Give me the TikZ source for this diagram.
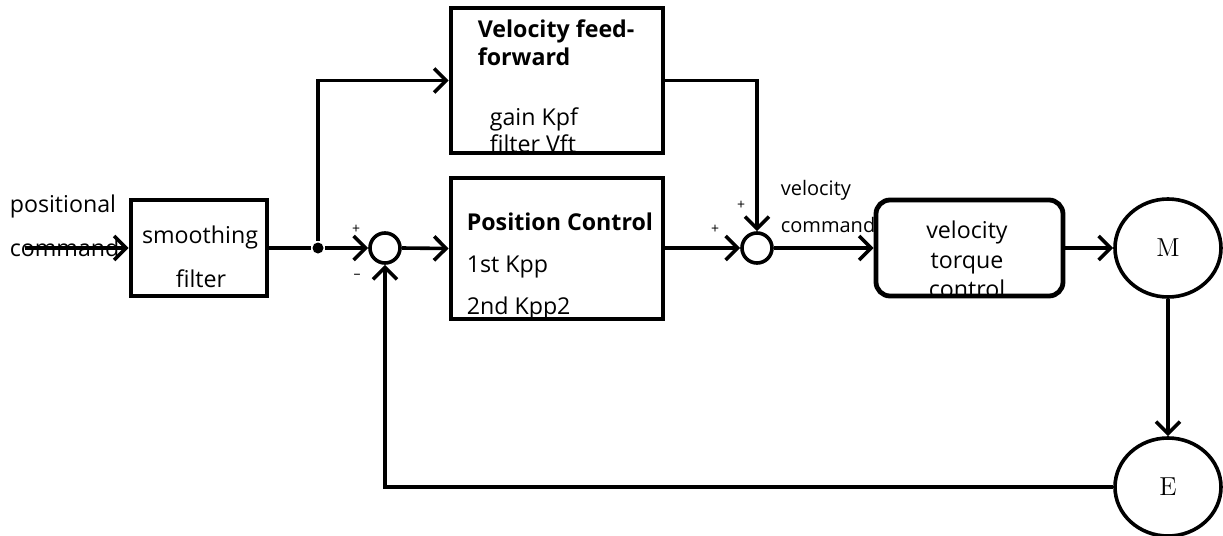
\documentclass[tikz,border=0pt]{standalone}
\usepackage{fontspec}
\setmainfont{Open Sans}
\newfontfamily\machfont{Latin Modern Roman}
\usetikzlibrary{arrows.meta,shapes.geometric}

\begin{document}
\begin{tikzpicture}[x=0.5pt,y=-0.5pt,
    line width=1.8pt, >={Straight Barb[length=6pt,width=12pt,line width=1.8pt]},
    blk/.style={draw, line width=2.4pt, inner sep=0pt},
    sum/.style={draw, circle, minimum size=15pt, inner sep=0pt},
    mach/.style={draw, ellipse, minimum width=53pt, minimum height=49pt, inner sep=0pt, font=\machfont\fontsize{13}{13}\selectfont},
    txt/.style={anchor=base west, inner sep=0pt, font=\fontsize{11.6}{11.6}\selectfont},
    ctxt/.style={anchor=base, inner sep=0pt, font=\fontsize{11.6}{11.6}\selectfont},
    sgn/.style={inner sep=0pt, font=\fontsize{7}{7}\selectfont}]
  \useasboundingbox (0,0) rectangle (1223,536);

  % Blocks
  \node[blk, minimum width=106pt, minimum height=72.5pt] (ff) at (557,80.5) {};
  \node[blk, minimum width=68pt, minimum height=48pt] (filter) at (199,248) {};
  \node[blk, minimum width=106pt, minimum height=70.5pt] (pc) at (557,248.5) {};
  \node[blk, rounded corners=7pt, minimum width=93.5pt, minimum height=48pt] (vtc) at (969.5,248) {};
  \node[sum] (s1) at (385,248) {};
  \node[sum] (s2) at (757,248) {};
  \node[mach] (m) at (1168,248) {M};
  \node[mach] (e) at (1168,487) {E};
  \node[circle, fill, minimum size=5.5pt, inner sep=0pt] (dot) at (318,248) {};
  \coordinate (in) at (25,248);

  % Texts
  \node[txt] (cmd1) at (8,212) {positional};
  \node[txt] (cmd2) at (8,256) {command};
  \node[ctxt] (flt1) at (200,243) {smoothing};
  \node[ctxt] (flt2) at (201,287) {filter};
  \node[txt, font=\fontsize{11.6}{11.6}\selectfont\bfseries] (ff1) at (476,37) {Velocity feed-};
  \node[txt, font=\fontsize{11.6}{11.6}\selectfont\bfseries] (ff2) at (476,65) {forward};
  \node[txt] (ff3) at (488,125) {gain Kpf};
  \node[txt] (ff4) at (488,152) {filter Vft};
  \node[txt, font=\fontsize{11.6}{11.6}\selectfont\bfseries] (pc1) at (465,230) {Position Control};
  \node[txt] (pc2) at (465,272) {1st Kpp};
  \node[txt] (pc3) at (465,314) {2nd Kpp2};
  \node[txt, font=\fontsize{10}{10}\selectfont] (vc1) at (779,195) {velocity};
  \node[txt, font=\fontsize{10}{10}\selectfont] (vc2) at (779,232) {command};
  \node[ctxt] (vt1) at (967,238) {velocity};
  \node[ctxt] (vt2) at (967,268) {torque};
  \node[ctxt] (vt3) at (967,297) {control};

  % Signs
  \node[sgn] (p1) at (356,229) {+};
  \node[sgn] (n1) at (357,276) {–};
  \node[sgn] (p2) at (715,229) {+};
  \node[sgn] (p3) at (741,205) {+};

  % Connectors
  \draw[->] (in) -- (filter.west);
  \draw (filter.east) -- (dot);
  \draw[->] (dot) -- (s1.west);
  \draw[->] (dot) |- (ff.west);
  \draw[->] (s1.east) -- (pc.west);
  \draw[->] (pc.east |- s2) -- (s2.west);
  \draw[->] (ff.east) -| (s2.north);
  \draw[->] (s2.east) -- (vtc.west);
  \draw[->] (vtc.east) -- (m.west);
  \draw[->] (m.south) -- (e.north);
  \draw[->] (e.west) -| (s1.south);
\end{tikzpicture}
\end{document}
